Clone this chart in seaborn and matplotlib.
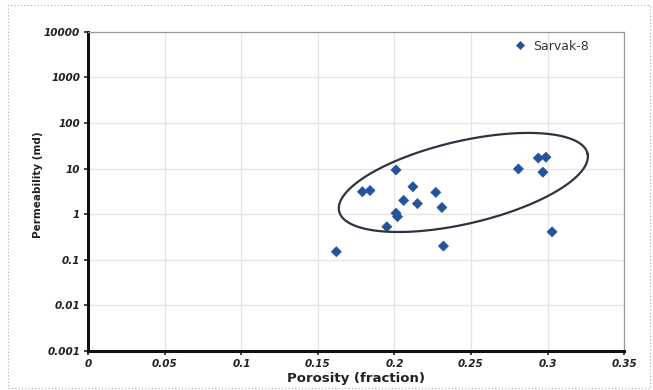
import numpy as np
import pandas as pd
import matplotlib
matplotlib.use("Agg")
import matplotlib.pyplot as plt
import seaborn as sns
from matplotlib.patches import Rectangle

porosity = [0.162, 0.179, 0.184, 0.195, 0.201, 0.201, 0.202, 0.206, 0.212,
            0.215, 0.227, 0.231, 0.232, 0.281, 0.294, 0.299, 0.297, 0.303]
permeability = [0.15, 3.1, 3.3, 0.53, 9.3, 1.05, 0.88, 2.0, 4.0,
                1.7, 3.0, 1.4, 0.2, 9.8, 17.0, 17.7, 8.3, 0.41]
series_name = "Sarvak-8"
x_ticks = [0, 0.05, 0.1, 0.15, 0.2, 0.25, 0.3, 0.35]
x_tick_labels = ["0", "0.05", "0.1", "0.15", "0.2", "0.25", "0.3", "0.35"]
y_ticks = [0.001, 0.01, 0.1, 1, 10, 100, 1000, 10000]
y_tick_labels = ["0.001", "0.01", "0.1", "1", "10", "100", "1000", "10000"]

df = pd.DataFrame({"Porosity": porosity, "Permeability": permeability,
                   "Well": series_name})

sns.set_style("whitegrid")
plt.rcParams["font.family"] = ["DejaVu Sans"]

fig = plt.figure(figsize=(6.53, 3.90), dpi=100)
ax = fig.add_axes([0.1355, 0.100, 0.8201, 0.8187])

sns.scatterplot(data=df, x="Porosity", y="Permeability", hue="Well",
                palette=["#24539a"], marker="D", s=26, edgecolor="#24539a",
                linewidth=0.5, ax=ax, zorder=3)

ax.set_yscale("log")
ax.set_xlim(0, 0.35)
ax.set_ylim(0.001, 10000)
ax.set_xticks(x_ticks)
ax.set_xticklabels(x_tick_labels)
ax.set_yticks(y_ticks)
ax.set_yticklabels(y_tick_labels)
ax.minorticks_off()
ax.tick_params(axis="both", labelsize=7.5, length=3, width=1.2, color="#222222",
               pad=3, direction="out", left=True, bottom=True)
for lab in ax.get_xticklabels() + ax.get_yticklabels():
    lab.set_fontweight("bold")
    lab.set_fontstyle("italic")
    lab.set_color("#222222")

ax.grid(True, color="#e4e4e4", linewidth=0.9)
ax.set_facecolor("white")
for side in ["left", "bottom"]:
    ax.spines[side].set_color("#111111")
    ax.spines[side].set_linewidth(2.2)
for side in ["top", "right"]:
    ax.spines[side].set_color("#9a9a9a")
    ax.spines[side].set_linewidth(0.9)

ax.set_xlabel("Porosity (fraction)", fontsize=9.5, fontweight="bold",
              color="#222222", labelpad=2)
ax.set_ylabel("Permeability (md)", fontsize=7.5, fontweight="bold",
              color="#222222", labelpad=5)
ax.yaxis.set_label_coords(-0.085, 0.52)

# Ellipse annotation (drawn in x / log10(y) space)
px_per_x = 1530.0
px_per_decade = 45.6
cx, cy = 0.245, 0.695
a_px, b_px, theta = 127.5, 41.3, np.deg2rad(13.1)
t = np.linspace(0, 2 * np.pi, 300)
dx = a_px * np.cos(t) * np.cos(theta) - b_px * np.sin(t) * np.sin(theta)
dy = a_px * np.cos(t) * np.sin(theta) + b_px * np.sin(t) * np.cos(theta)
ax.plot(cx + dx / px_per_x, 10 ** (cy + dy / px_per_decade),
        color="#2b3440", linewidth=1.6, zorder=4)

leg = ax.legend(loc="upper right", bbox_to_anchor=(0.955, 1.01), frameon=False,
                fontsize=9, handletextpad=0.05, markerscale=0.8)
for txt in leg.get_texts():
    txt.set_color("#333333")

fig.patches.append(Rectangle((0.012, 0.005), 0.984, 0.982, transform=fig.transFigure,
                             fill=False, edgecolor="#aaaaaa", linestyle=(0, (1, 2)),
                             linewidth=0.8))

fig.savefig("out.png", dpi=100)
